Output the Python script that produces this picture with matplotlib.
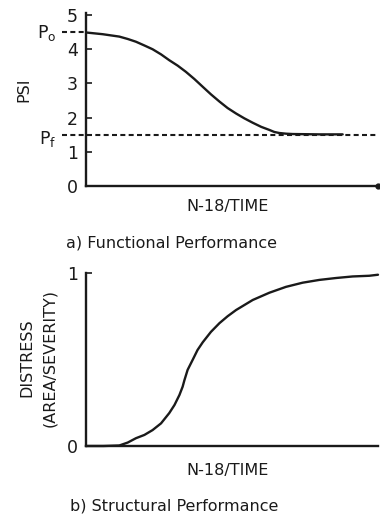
import matplotlib
matplotlib.use("Agg")
import matplotlib.pyplot as plt

# ---- data ----
psi_x = [0, 0.57, 1.14, 1.43, 1.71, 2.0, 2.28, 2.57, 2.85, 3.14, 3.42, 3.71, 4.0, 4.28,
         4.57, 4.85, 5.14, 5.42, 5.71, 6.0, 6.28, 6.45, 6.62, 6.85, 7.08, 8.0, 8.79]
psi_y = [4.49, 4.44, 4.37, 4.30, 4.22, 4.11, 4.0, 3.85, 3.68, 3.52, 3.34, 3.13, 2.90, 2.68,
         2.47, 2.28, 2.12, 1.98, 1.85, 1.73, 1.64, 1.58, 1.55, 1.53, 1.52, 1.51, 1.51]
P0 = 4.5
Pf = 1.48
psi_ticks = [0, 1, 2, 3, 4, 5]

dist_x = [0, 0.6, 1.14, 1.43, 1.71, 2.0, 2.28, 2.57, 2.85, 3.03, 3.2, 3.31, 3.37, 3.48,
          3.65, 3.82, 4.0, 4.28, 4.57, 4.85, 5.14, 5.71, 6.28, 6.85, 7.42, 7.99, 8.56,
          9.13, 9.7, 10]
dist_y = [0, 0, 0.003, 0.02, 0.045, 0.064, 0.092, 0.131, 0.19, 0.237, 0.295, 0.343, 0.38, 0.44,
          0.497, 0.555, 0.60, 0.66, 0.71, 0.75, 0.786, 0.844, 0.886, 0.92, 0.944, 0.96, 0.971,
          0.98, 0.984, 0.99]
dist_ticks = [0, 1]

xlabel = "N-18/TIME"
title_a = "a) Functional Performance"
title_b = "b) Structural Performance"

W, H = 380, 514
fig = plt.figure(figsize=(W / 100, H / 100), dpi=100)
plt.rcParams['font.family'] = ['DejaVu Sans']

def fx(px):
    return px / W

def fy(py):
    return 1 - py / H

LW = 1.7
FS = 11.5
C = '#1a1a1a'

def style(ax, ticks, top):
    for s in ['top', 'right']:
        ax.spines[s].set_visible(False)
    for s in ['left', 'bottom']:
        ax.spines[s].set_linewidth(LW)
        ax.spines[s].set_color(C)
    ax.set_xlim(0, 10)
    ax.set_ylim(0, top)
    ax.set_xticks([])
    ax.set_yticks(ticks)
    ax.set_yticklabels([str(t) for t in ticks])
    ax.tick_params(axis='y', direction='in', length=4, width=1.2, pad=6,
                   labelsize=FS + 1, colors=C)
    ax.patch.set_alpha(0)

# ---- top panel ----
ax1 = fig.add_axes([fx(86), fy(186), fx(378 - 86), (186 - 13) / H])
style(ax1, psi_ticks, 5.06)
ax1.plot(psi_x, psi_y, color=C, lw=LW, solid_capstyle='round', solid_joinstyle='round')
ax1.plot([-0.82, 0], [P0, P0], color=C, lw=1.5, ls=(0, (2.4, 1.6)), clip_on=False)
ax1.plot([-0.82, 10], [Pf, Pf], color=C, lw=1.5, ls=(0, (2.4, 1.6)), clip_on=False)
ax1.plot([10], [0], 'o', color=C, ms=3.5, clip_on=False)

fig.text(fx(47), fy(33), r"P$_\mathregular{o}$", fontsize=FS + 1, ha='center', va='center', color=C)
fig.text(fx(48), fy(139), r"P$_\mathregular{f}$", fontsize=FS + 1, ha='center', va='center', color=C)
fig.text(fx(24), fy(90), "PSI", fontsize=FS, rotation=90, ha='center', va='center', color=C)
fig.text(fx(228), fy(207), xlabel, fontsize=FS, ha='center', va='center', color=C)
fig.text(fx(171), fy(243), title_a, fontsize=FS, ha='center', va='center', color=C)

# ---- bottom panel ----
ax2 = fig.add_axes([fx(86), fy(446), fx(378 - 86), (446 - 273) / H])
style(ax2, dist_ticks, 1.0)
ax2.plot(dist_x, dist_y, color=C, lw=LW, solid_capstyle='round', solid_joinstyle='round',
         clip_on=False)

fig.text(fx(27), fy(358), "DISTRESS", fontsize=FS, rotation=90, ha='center', va='center', color=C)
fig.text(fx(50), fy(358), "(AREA/SEVERITY)", fontsize=FS, rotation=90, ha='center', va='center', color=C)
fig.text(fx(228), fy(470), xlabel, fontsize=FS, ha='center', va='center', color=C)
fig.text(fx(174), fy(506), title_b, fontsize=FS, ha='center', va='center', color=C)

fig.savefig("out.png", dpi=100)
